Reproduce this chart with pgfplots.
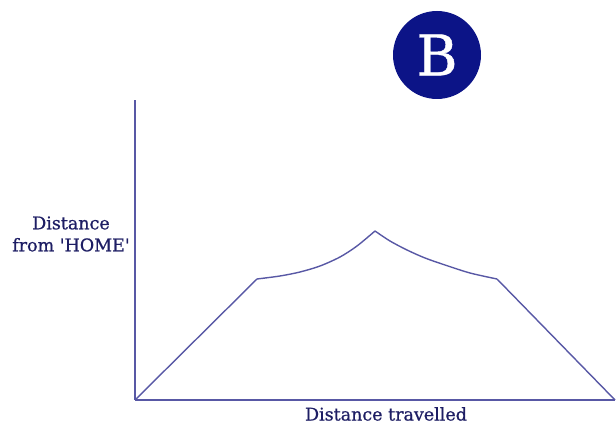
\documentclass[border=0pt]{standalone}
\usepackage{fontspec}
\setmainfont{DejaVu Serif}
\newfontfamily\labelfont[FakeBold=0.8]{DejaVu Serif}
\usepackage{pgfplots}
\pgfplotsset{compat=1.18}
\definecolor{linec}{RGB}{88,88,165}
\definecolor{textc}{RGB}{30,30,100}
\definecolor{circc}{RGB}{12,20,135}
\begin{document}
\begin{tikzpicture}[x=1pt,y=1pt]
\path[use as bounding box] (0,0) rectangle (616,425);
\begin{axis}[
  at={(135pt,25pt)}, anchor=south west,
  scale only axis, width=480pt, height=300pt,
  xmin=0, xmax=480, ymin=0, ymax=300,
  axis x line=bottom, axis y line=left,
  axis line style={-, linec, line width=1.3pt},
  xtick=\empty, ytick=\empty,
  clip=false,
]
\addplot[linec, line width=1.4pt] coordinates {(0,0) (122,121)};
\addplot[linec, line width=1.4pt, smooth] coordinates {(122,121) (145,124) (165,128) (185,134) (205,143) (222,154) (240,169)};
\addplot[linec, line width=1.4pt, smooth] coordinates {(240,169) (255,159) (272,150) (290,142) (310,135) (335,127) (362,121)};
\addplot[linec, line width=1.4pt] coordinates {(362,121) (480,0)};
\end{axis}
\node[text=textc, font=\labelfont\fontsize{17.5}{22}\selectfont, align=center] at (71,191) {Distance\\from \textquotesingle HOME\textquotesingle};
\node[text=textc, font=\labelfont\fontsize{17.5}{22}\selectfont] at (386,11) {Distance travelled};
\fill[circc] (437,370) circle (44);
\node[text=white, font=\labelfont\fontsize{56}{60}\selectfont] at (437,370) {B};
\end{tikzpicture}
\end{document}
